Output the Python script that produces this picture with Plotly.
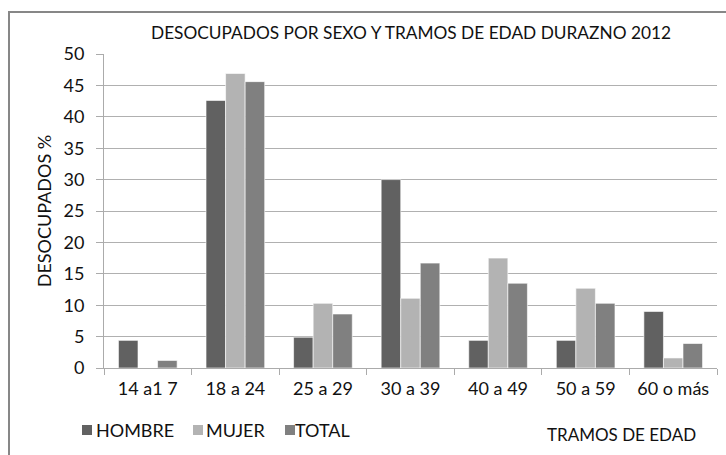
import plotly.graph_objects as go

categories = ["14 a1 7", "18 a 24", "25 a 29", "30 a 39", "40 a 49", "50 a 59", "60 o más"]
hombre = [4.4, 42.6, 4.9, 30.0, 4.4, 4.4, 9.0]
mujer = [0, 46.9, 10.3, 11.1, 17.5, 12.7, 1.6]
total = [1.2, 45.6, 8.6, 16.7, 13.5, 10.3, 3.9]
series_names = ["HOMBRE", "MUJER", "TOTAL"]
series_colors = ["#616161", "#b3b3b3", "#808080"]
yticks = [0, 5, 10, 15, 20, 25, 30, 35, 40, 45, 50]

FONT = "Lato, sans-serif"
FS = 18
W, H = 726, 455
ML, MR, MT, MB = 104, 9, 54, 87
PW, PH = W - ML - MR, H - MT - MB

def px(x):
    return (x - ML) / PW

def py(y):
    return (H - MB - y) / PH

fig = go.Figure()
for name, vals, col in zip(series_names, [hombre, mujer, total], series_colors):
    fig.add_trace(go.Bar(x=categories, y=vals, name=name, marker_color=col,
                         marker_line=dict(color="rgba(255,255,255,0.6)", width=1),
                         showlegend=False))

shapes = [dict(type="rect", xref="paper", yref="paper", x0=px(9), x1=px(760),
               y0=py(480), y1=py(12), line=dict(color="#878787", width=2),
               fillcolor="rgba(0,0,0,0)", layer="below")]
annotations = []
leg_sq = [82, 193, 285]
leg_tx = [94, 204, 293]
for name, col, sx, tx in zip(series_names, series_colors, leg_sq, leg_tx):
    shapes.append(dict(type="rect", xref="paper", yref="paper", x0=px(sx), x1=px(sx + 10),
                       y0=py(435), y1=py(425), line=dict(width=0), fillcolor=col))
    annotations.append(dict(text=name, xref="paper", yref="paper", x=px(tx), y=py(430),
                            xanchor="left", yanchor="middle", showarrow=False,
                            font=dict(family=FONT, size=FS, color="#111111")))
annotations.append(dict(text="TRAMOS DE EDAD", xref="paper", yref="paper", x=px(621), y=py(434),
                        xanchor="center", yanchor="middle", showarrow=False,
                        font=dict(family=FONT, size=17, color="#111111")))

fig.update_layout(
    width=W, height=H,
    margin=dict(l=ML, r=MR, t=MT, b=MB),
    paper_bgcolor="white", plot_bgcolor="white",
    barmode="group", bargap=0.33, bargroupgap=0,
    font=dict(family=FONT, size=FS, color="#111111"),
    title=dict(text="DESOCUPADOS POR SEXO Y TRAMOS DE EDAD DURAZNO 2012",
               xref="container", x=411 / W, xanchor="center",
               yref="container", y=1 - 33 / H, yanchor="middle",
               font=dict(family=FONT, size=17.3, color="#111111")),
    shapes=shapes, annotations=annotations,
)
fig.update_xaxes(type="category", showline=True, linecolor="#ababab", linewidth=1,
                 ticks="outside", tickson="boundaries", ticklen=6, tickcolor="#ababab",
                 showgrid=False, tickfont=dict(size=FS), ticklabelstandoff=4)
fig.update_yaxes(range=[0, 50], tickvals=yticks, showline=True, linecolor="#ababab",
                 linewidth=1, ticks="outside", ticklen=7, tickcolor="#ababab",
                 showgrid=True, gridcolor="#b0b0b0", gridwidth=1, zeroline=False,
                 tickfont=dict(size=FS), ticklabelstandoff=8,
                 title=dict(text="DESOCUPADOS %", standoff=7, font=dict(size=FS)))

fig.write_html("out.html", config={"displayModeBar": False},
               post_script="document.body.style.margin='0';document.body.style.overflow='hidden';")
